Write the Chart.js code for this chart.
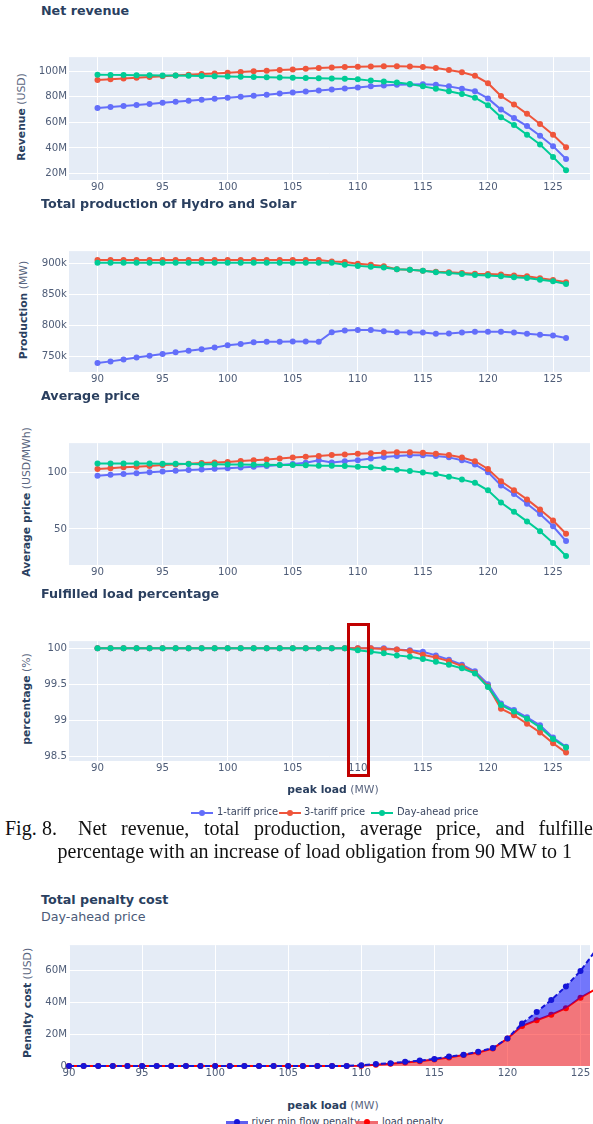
<!DOCTYPE html>
<html>
<head>
<meta charset="utf-8">
<script src="https://cdn.jsdelivr.net/npm/chart.js@4.4.1/dist/chart.umd.min.js"></script>
<style>
html, body { margin: 0; padding: 0; background: #fff; }
body { width: 593px; height: 1124px; position: relative; overflow: hidden; font-family: "DejaVu Sans", sans-serif; color: #2a3f5f; }
canvas { position: absolute; left: 0; }
.t { position: absolute; left: 41px; font-size: 12.7px; line-height: 13px; font-weight: bold; white-space: nowrap; }
.sub { position: absolute; left: 41px; font-size: 12.7px; line-height: 13px; white-space: nowrap; color: #4a5a78; }
.ya { position: absolute; font-size: 10.8px; line-height: 11px; white-space: nowrap; transform: translate(-50%, -50%) rotate(-90deg); }
.xa { position: absolute; font-size: 10.8px; line-height: 11px; white-space: nowrap; transform: translate(-50%, -50%); }
.ya span, .xa span { color: #5a6680; }
.lg { position: absolute; font-size: 9.9px; line-height: 10px; white-space: nowrap; color: #3a4660; }
.sym { position: absolute; width: 22px; height: 10px; }
.sym i { position: absolute; left: 0; right: 0; top: 4px; height: 2px; }
.sym b { position: absolute; left: 8px; top: 2px; width: 6px; height: 6px; border-radius: 50%; }
.cap { position: absolute; font-family: "Liberation Serif", serif; font-size: 20px; line-height: 20px; white-space: nowrap; color: #111; }
#mark { position: absolute; left: 347px; top: 623px; width: 23px; height: 154px; border: 3px solid #c00000; box-sizing: border-box; }
</style>
</head>
<body>

<div class="t" style="top:4px">Net revenue</div>
<div class="ya" style="left:20.5px;top:116.5px"><b>Revenue</b> <span>(USD)</span></div>
<canvas id="c1" width="593" height="153" style="top:49px"></canvas>

<div class="t" style="top:197px">Total production of Hydro and Solar</div>
<div class="ya" style="left:23px;top:309.5px"><b>Production</b> <span>(MW)</span></div>
<canvas id="c2" width="593" height="151" style="top:243px"></canvas>

<div class="t" style="top:389px">Average price</div>
<div class="ya" style="left:26px;top:502px"><b>Average price</b> <span>(USD/MWh)</span></div>
<canvas id="c3" width="593" height="152" style="top:435px"></canvas>

<div class="t" style="top:587px">Fulfilled load percentage</div>
<div class="ya" style="left:25.5px;top:699px"><b>percentage</b> <span>(%)</span></div>
<canvas id="c4" width="593" height="150" style="top:633px"></canvas>
<div class="xa" style="left:333px;top:789px"><b>peak load</b> <span>(MW)</span></div>

<div class="sym" style="left:191px;top:807.7px"><i style="background:#636efa"></i><b style="background:#636efa"></b></div>
<div class="lg" style="left:217px;top:807.2px">1-tariff price</div>
<div class="sym" style="left:279px;top:807.7px"><i style="background:#ef553b"></i><b style="background:#ef553b"></b></div>
<div class="lg" style="left:304px;top:807.2px">3-tariff price</div>
<div class="sym" style="left:371px;top:807.7px"><i style="background:#00cc96"></i><b style="background:#00cc96"></b></div>
<div class="lg" style="left:397px;top:807.2px">Day-ahead price</div>

<div id="mark"></div>

<div class="cap" style="left:5px;top:818px">Fig.</div>
<div class="cap" style="left:42px;top:818px">8.</div>
<div class="cap" style="left:78px;top:818px">Net</div>
<div class="cap" style="left:121px;top:818px">revenue,</div>
<div class="cap" style="left:204px;top:818px">total</div>
<div class="cap" style="left:254px;top:818px">production,</div>
<div class="cap" style="left:360px;top:818px">average</div>
<div class="cap" style="left:436px;top:818px">price,</div>
<div class="cap" style="left:495.5px;top:818px">and</div>
<div class="cap" style="left:538.5px;top:818px">fulfilled</div>
<div class="cap" style="left:57.5px;top:841px">percentage with an increase of load obligation from 90 MW to 1</div>

<div class="t" style="top:893px">Total penalty cost</div>
<div class="sub" style="top:909.5px">Day-ahead price</div>
<div class="ya" style="left:27px;top:1003px"><b>Penalty cost</b> <span>(USD)</span></div>
<canvas id="c5" width="593" height="151" style="top:937px"></canvas>
<div class="xa" style="left:333px;top:1105px"><b>peak load</b> <span>(MW)</span></div>

<div class="sym" style="left:226px;top:1116.5px"><i style="background:rgba(40,40,235,0.75);height:5px;top:4px"></i><b style="background:#1515d8"></b></div>
<div class="lg" style="left:251.5px;top:1116.5px">river min flow penalty</div>
<div class="sym" style="left:355.5px;top:1116.5px"><i style="background:rgba(240,90,95,0.9);height:5px;top:4px"></i><b style="background:#f00"></b></div>
<div class="lg" style="left:382px;top:1116.5px">load penalty</div>

<script>
const peakLoad = [90, 91, 92, 93, 94, 95, 96, 97, 98, 99, 100, 101, 102, 103, 104, 105, 106, 107, 108,
    109, 110, 111, 112, 113, 114, 115, 116, 117, 118, 119, 120, 121, 122, 123, 124, 125, 126];

// net revenue, million USD
const revenue1 = [71.2, 72.0, 72.8, 73.6, 74.4, 75.3, 76.1, 76.9, 77.7, 78.5, 79.3, 80.1, 80.9, 81.7, 82.6, 83.4, 84.2, 85.0, 85.8,
    86.6, 87.4, 88.2, 88.9, 89.4, 89.7, 89.9, 89.4, 88.2, 86.4, 84.4, 78.8, 70.0, 63.4, 57.1, 49.5, 41.4, 31.4];
const revenue3 = [93.2, 93.8, 94.4, 95.0, 95.6, 96.2, 96.8, 97.3, 97.8, 98.3, 98.9, 99.5, 100.0, 100.5, 101.0, 101.5, 102.0, 102.5, 103.0,
    103.3, 103.6, 103.8, 104.0, 104.0, 103.8, 103.3, 102.5, 101.0, 99.2, 96.5, 90.7, 80.6, 74.0, 66.7, 58.8, 50.3, 40.5];
const revenueDA = [97.3, 97.2, 97.1, 97.0, 96.9, 96.8, 96.7, 96.6, 96.4, 96.2, 96.0, 95.8, 95.6, 95.4, 95.2, 95.0, 94.8, 94.6, 94.4,
    94.2, 93.8, 92.7, 92.0, 91.2, 90.0, 88.2, 86.4, 84.4, 82.3, 79.3, 73.5, 64.0, 57.9, 50.3, 42.7, 33.0, 22.5];

// total production, thousand MW
const prod1 = [739.0, 741.7, 744.8, 748.0, 751.0, 753.7, 756.3, 759.0, 761.5, 764.0, 767.8, 770.0, 772.5, 773.5, 773.5, 774.0, 774.0, 773.5, 789.0,
    791.7, 792.5, 792.5, 790.6, 789.0, 788.5, 788.5, 786.5, 787.0, 788.5, 789.6, 789.6, 789.6, 788.5, 786.5, 785.0, 783.5, 779.7];
const prod3 = [906.0, 906.0, 906.0, 906.0, 906.0, 906.0, 906.0, 906.0, 906.0, 906.0, 906.0, 906.0, 906.0, 906.0, 906.0, 906.0, 906.0, 906.0, 903.6,
    902.6, 900.0, 898.4, 895.8, 891.1, 890.1, 888.6, 887.0, 885.9, 884.9, 883.8, 883.3, 882.5, 881.0, 879.5, 876.5, 873.5, 870.0];
const prodDA = [901.6, 901.6, 901.6, 901.6, 901.6, 901.6, 901.6, 901.6, 901.6, 901.6, 901.6, 901.6, 901.6, 901.6, 901.6, 901.6, 901.6, 901.6, 901.6,
    898.4, 896.4, 894.8, 893.8, 891.1, 890.1, 888.6, 886.0, 885.0, 883.3, 881.8, 880.7, 879.5, 878.1, 876.6, 874.0, 871.5, 867.0];

// average price, USD/MWh
const price1 = [96.9, 97.6, 98.3, 99.0, 99.8, 100.6, 101.2, 101.8, 102.3, 102.9, 103.4, 104.0, 104.7, 105.4, 106.2, 107.1, 108.3, 110.5, 108.5,
    109.6, 110.5, 111.9, 113.4, 114.2, 114.8, 114.8, 114.2, 113.0, 110.5, 106.8, 100.0, 88.3, 80.7, 72.2, 63.1, 52.3, 39.3];
const price3 = [102.8, 103.5, 104.2, 104.8, 105.5, 106.2, 106.8, 107.4, 108.0, 108.5, 109.0, 109.7, 110.4, 111.2, 112.0, 112.8, 113.5, 114.2, 115.0,
    115.6, 116.2, 116.6, 117.0, 117.6, 117.6, 117.0, 116.2, 115.0, 112.8, 109.6, 102.8, 92.0, 84.0, 76.0, 67.0, 57.4, 45.7];
const priceDA = [107.7, 107.6, 107.6, 107.5, 107.5, 107.4, 107.3, 107.2, 107.0, 106.9, 106.8, 106.7, 106.6, 106.4, 106.3, 106.2, 106.0, 105.7, 105.7,
    105.3, 104.8, 104.3, 103.1, 102.0, 101.1, 99.7, 98.3, 96.0, 93.4, 90.6, 84.0, 73.3, 65.0, 56.6, 48.0, 37.6, 26.2];

// fulfilled load, %
const load1 = [100, 100, 100, 100, 100, 100, 100, 100, 100, 100, 100, 100, 100, 100, 100, 100, 100, 100, 100,
    100, 100, 100, 100, 99.98, 99.97, 99.95, 99.90, 99.84, 99.77, 99.68, 99.50, 99.23, 99.14, 99.04, 98.93, 98.76, 98.63];
const load3 = [100, 100, 100, 100, 100, 100, 100, 100, 100, 100, 100, 100, 100, 100, 100, 100, 100, 100, 100,
    100, 100, 100, 99.99, 99.98, 99.96, 99.91, 99.87, 99.82, 99.75, 99.66, 99.47, 99.16, 99.07, 98.95, 98.83, 98.68, 98.55];
const loadDA = [100, 100, 100, 100, 100, 100, 100, 100, 100, 100, 100, 100, 100, 100, 100, 100, 100, 100, 100,
    100, 99.97, 99.95, 99.93, 99.90, 99.88, 99.85, 99.81, 99.77, 99.72, 99.65, 99.46, 99.21, 99.12, 99.02, 98.90, 98.74, 98.62];

// penalty cost (day-ahead price), million USD
const loadPenalty = [0, 0, 0, 0, 0, 0, 0, 0, 0, 0, 0, 0, 0, 0, 0, 0, 0, 0, 0,
    0, 0.2, 0.8, 1.4, 2.2, 3.0, 4.0, 5.3, 6.9, 8.5, 10.9, 17.2, 25.1, 28.7, 32.1, 36.2, 42.8, 48.0];
const riverPenalty = [0, 0, 0, 0, 0, 0, 0, 0, 0, 0, 0, 0, 0, 0, 0, 0, 0, 0, 0,
    0, 0.3, 0.4, 0.4, 0.4, 0.4, 0.4, 0.6, 0.2, 0.4, 0.4, 0.1, 1.6, 5.1, 9.3, 13.7, 16.8, 24.0];

const xTicks = [90, 95, 100, 105, 110, 115, 120, 125];

const BLUE = "#636efa", RED = "#ef553b", GREEN = "#00cc96";
const TICK = "#4f5d78";

const plotBg = {
    id: "plotBg",
    beforeDraw(chart) {
        const { ctx, chartArea: a } = chart;
        ctx.save();
        ctx.fillStyle = "#e5ecf6";
        ctx.fillRect(a.left, a.top, a.right - a.left, a.bottom - a.top);
        ctx.restore();
    }
};

function pts(values) {
    return peakLoad.map((x, i) => ({ x: x, y: values[i] }));
}

function series(label, values, color, order) {
    return {
        label: label,
        data: pts(values),
        borderColor: color,
        backgroundColor: color,
        pointBackgroundColor: color,
        borderWidth: 2,
        pointRadius: 3,
        pointBorderWidth: 0,
        pointHoverRadius: 3,
        tension: 0,
        order: order
    };
}

function makeChart(id, datasets, o) {
    return new Chart(document.getElementById(id), {
        type: "line",
        data: { datasets: datasets },
        options: {
            responsive: false,
            animation: false,
            events: [],
            layout: { padding: { top: 4, left: 0, right: 0, bottom: 0 } },
            plugins: { legend: { display: false }, tooltip: { enabled: false } },
            scales: {
                x: {
                    type: "linear",
                    min: o.xMin,
                    max: o.xMax,
                    border: { display: false },
                    grid: { color: "#ffffff", lineWidth: 1, drawTicks: false },
                    afterBuildTicks: s => { s.ticks = xTicks.map(v => ({ value: v })); },
                    ticks: {
                        padding: 1, color: TICK, maxRotation: 0, autoSkip: false,
                        font: { family: "DejaVu Sans", size: 10.2 },
                        callback: v => String(v)
                    },
                    afterFit: s => { s.height = 22; }
                },
                y: {
                    min: o.yMin,
                    max: o.yMax,
                    border: { display: false },
                    grid: { color: "#ffffff", lineWidth: 1, drawTicks: false },
                    afterBuildTicks: s => { s.ticks = o.yTicks.map(v => ({ value: v })); },
                    ticks: {
                        padding: 2, color: TICK, autoSkip: false,
                        font: { family: "DejaVu Sans", size: 10.2 },
                        callback: o.yFmt
                    },
                    afterFit: s => { s.width = 69; }
                }
            }
        },
        plugins: [plotBg]
    });
}

const topX = { xMin: 87.81, xMax: 127.84 };

makeChart("c1", [
    series("1-tariff price", revenue1, BLUE, 2),
    series("3-tariff price", revenue3, RED, 1),
    series("Day-ahead price", revenueDA, GREEN, 0)
], Object.assign({ yMin: 14.9, yMax: 111.1, yTicks: [20, 40, 60, 80, 100], yFmt: v => v + "M" }, topX));

makeChart("c2", [
    series("1-tariff price", prod1, BLUE, 2),
    series("3-tariff price", prod3, RED, 1),
    series("Day-ahead price", prodDA, GREEN, 0)
], Object.assign({ yMin: 724.5, yMax: 920.3, yTicks: [750, 800, 850, 900], yFmt: v => v + "k" }, topX));

makeChart("c3", [
    series("1-tariff price", price1, BLUE, 2),
    series("3-tariff price", price3, RED, 1),
    series("Day-ahead price", priceDA, GREEN, 0)
], Object.assign({ yMin: 18.2, yMax: 125.55, yTicks: [50, 100], yFmt: v => String(v) }, topX));

makeChart("c4", [
    series("1-tariff price", load1, BLUE, 2),
    series("3-tariff price", load3, RED, 1),
    series("Day-ahead price", loadDA, GREEN, 0)
], Object.assign({ yMin: 98.433, yMax: 100.098, yTicks: [98.5, 99, 99.5, 100], yFmt: v => String(v) }, topX));

// river penalty sits on top of the load penalty
const riverTop = riverPenalty.map((v, i) => v + loadPenalty[i]);

const river = series("river min flow penalty", riverTop, "#1515d8", 0);
river.fill = "+1";
river.backgroundColor = "rgba(0, 0, 255, 0.5)";
river.borderDash = [5, 3];
river.clip = 6;

const loadPen = series("load penalty", loadPenalty, "#ff0000", 1);
loadPen.fill = "origin";
loadPen.backgroundColor = "rgba(255, 0, 0, 0.5)";
loadPen.clip = 6;

makeChart("c5", [river, loadPen], {
    xMin: 90, xMax: 125.65, yMin: 0, yMax: 75.76,
    yTicks: [0, 20, 40, 60], yFmt: v => v === 0 ? "0" : v + "M"
});
</script>
</body>
</html>
